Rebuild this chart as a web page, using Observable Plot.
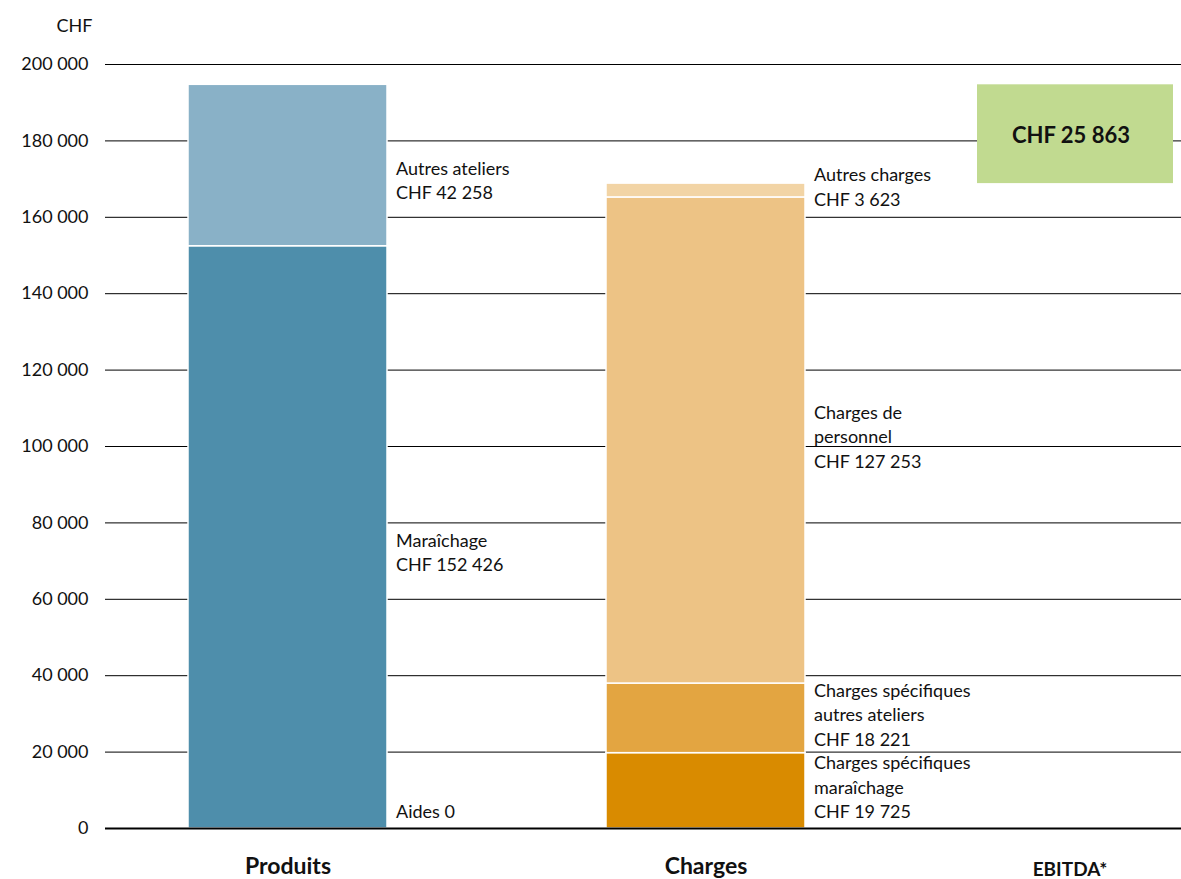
<!DOCTYPE html>
<html><head><meta charset="utf-8">
<script src="https://cdn.jsdelivr.net/npm/d3@7"></script>
<script src="https://cdn.jsdelivr.net/npm/@observablehq/plot@0.6"></script>
<style>
body{margin:0;background:#fff;}
#chart svg{font-family:Lato,"Noto Sans",sans-serif;}
</style>
</head><body><div id="chart"></div>
<script>
// ---- data ----
const categories = ["Produits", "Charges", "EBITDA*"];
const segCategory = ["Produits", "Produits", "Produits", "Charges", "Charges", "Charges", "Charges"];
const segNames = ["Aides", "Maraîchage", "Autres ateliers",
  "Charges spécifiques\nmaraîchage", "Charges spécifiques\nautres ateliers",
  "Charges de\npersonnel", "Autres charges"];
const segValues = [0, 152426, 42258, 19725, 18221, 127253, 3623];
const segColors = ["#4e8eab", "#4e8eab", "#89b1c7", "#d98b00", "#e3a541", "#edc385", "#f2d4a5"];
const yTicks = [0, 20000, 40000, 60000, 80000, 100000, 120000, 140000, 160000, 180000, 200000];
const yUnit = "CHF";
const ebitdaCategory = "EBITDA*";
const ebitdaValue = 25863;

// ---- helpers ----
const fmt = d3.formatLocale({decimal: ",", thousands: " ", grouping: [3], currency: ["", ""]}).format(",d");
const running = {};
const segs = segNames.map((name, i) => {
  const cat = segCategory[i];
  const y1 = running[cat] || 0;
  const y2 = y1 + segValues[i];
  running[cat] = y2;
  const label = segValues[i] === 0 ? `${name} ${fmt(segValues[i])}` : `${name}\nCHF ${fmt(segValues[i])}`;
  return {cat, name, value: segValues[i], color: segColors[i], y1, y2, mid: (y1 + y2) / 2, label};
});
const totalProduits = d3.sum(segs.filter(d => d.cat === "Produits"), d => d.value);
const totalCharges = d3.sum(segs.filter(d => d.cat === "Charges"), d => d.value);
const ebitda = [{cat: ebitdaCategory, y1: totalCharges, y2: totalProduits, label: `CHF ${fmt(ebitdaValue)}`}];

const txt = "#111";
const fs = 18;
const chart = Plot.plot({
  width: 1181,
  height: 879,
  marginLeft: 105,
  marginRight: 0,
  marginTop: 64,
  marginBottom: 51,
  x: {domain: categories, range: [187, 1224], paddingInner: 0.525, paddingOuter: 0, axis: null},
  y: {domain: [0, 200000], axis: null},
  color: {type: "identity"},
  marks: [
    Plot.ruleY(yTicks.filter(d => d > 0), {stroke: "#000", strokeWidth: 1}),
    Plot.axisY(yTicks, {tickSize: 0, tickPadding: 17, tickFormat: fmt, fontSize: fs, fill: txt, label: null}),
    Plot.text([yUnit], {frameAnchor: "top-left", textAnchor: "end", dx: -13, dy: -45, fontSize: fs, fill: txt}),
    Plot.barY(segs, {x: "cat", y1: "y1", y2: "y2", fill: "color", stroke: "white", strokeWidth: 1.5}),
    Plot.barY(ebitda, {x: "cat", y1: "y1", y2: "y2", fill: "#c1da90", dx: -47, insetRight: 3}),
    Plot.text(ebitda, {x: "cat", y: d => (d.y1 + d.y2) / 2, text: "label", dx: -53, dy: 2, fontSize: 22, fontWeight: "bold", fill: txt}),
    Plot.ruleY([0], {stroke: "#000", strokeWidth: 2}),
    Plot.text(segs.filter(d => d.cat === "Produits" && d.value > 0), {x: "cat", y: "mid", text: "label", textAnchor: "start", lineAnchor: "top", dx: 108, dy: -8, fontSize: fs, lineHeight: 1.35, fill: txt}),
    Plot.text(segs.filter(d => d.cat === "Produits" && d.value === 0), {x: "cat", y: "mid", text: "label", textAnchor: "start", lineAnchor: "bottom", dx: 108, dy: -11, fontSize: fs, fill: txt}),
    Plot.text(segs.filter(d => d.cat === "Charges"), {x: "cat", y: "mid", text: "label", textAnchor: "start", lineAnchor: "middle", dx: 108, dy: -5, fontSize: fs, lineHeight: 1.36, fill: txt}),
    Plot.text(categories.filter(c => c !== ebitdaCategory), {x: d => d, frameAnchor: "bottom", dy: 45, fontSize: 23, fontWeight: "bold", fill: txt}),
    Plot.text([ebitdaCategory], {x: d => d, frameAnchor: "bottom", dy: 47, dx: -54, fontSize: 19, fontWeight: "bold", fill: txt})
  ]
});
document.getElementById("chart").append(chart);
</script>
</body></html>
